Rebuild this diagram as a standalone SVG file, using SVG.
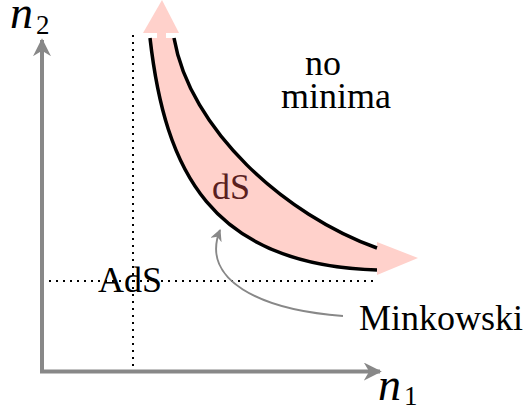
<svg xmlns="http://www.w3.org/2000/svg" width="531" height="411" viewBox="0 0 531 411">
<style>
.axis{stroke:#888;stroke-width:4;fill:none}
.dot{stroke:#000;stroke-width:2;stroke-dasharray:2 5;fill:none}
.lbl{font-family:"Liberation Serif",serif;font-size:36px;fill:#000}
.math{font-family:"Liberation Serif",serif;font-style:italic;font-size:46px;fill:#000}
.sub{font-family:"Liberation Serif",serif;font-size:27px;fill:#000}
.pink{fill:#ffd1cb}
.edge{fill:none;stroke:#000;stroke-width:3.5}
</style>
<defs>
<marker id="ga" viewBox="0 0 10 10" refX="9" refY="5" markerWidth="4.5" markerHeight="4.5" orient="auto" markerUnits="strokeWidth"><path d="M0,0 L10,5 L0,10 L3,5 z" fill="#888"/></marker>
<marker id="gm" viewBox="0 0 10 10" refX="9" refY="5" markerWidth="6" markerHeight="6" orient="auto" markerUnits="strokeWidth"><path d="M0,0 L10,5 L0,10 L3,5 z" fill="#888"/></marker>
</defs>
<g id="dotted">
<line class="dot" x1="133" y1="35" x2="133" y2="372"/>
<line class="dot" x1="42" y1="281" x2="375" y2="281"/>
</g>
<g id="axes">
<line class="axis" x1="42" y1="373" x2="42" y2="40" marker-end="url(#ga)"/>
<line class="axis" x1="40" y1="371.5" x2="380" y2="371.5" marker-end="url(#ga)"/>
<text class="math" x="10" y="28">n</text><text class="sub" x="36" y="34">2</text>
<text class="math" x="378" y="400">n</text><text class="sub" x="404" y="405">1</text>
</g>
<g id="band">
<path class="pink" d="M150,38 C165,170 210,265 377,270 L377,248 C285,215 190,130 174,38 Z"/>
<rect class="pink" x="157" y="32" width="9" height="8"/>
<path class="pink" d="M143,33 L162,0 L179,33 Z"/>
<rect class="pink" x="375" y="251" width="5" height="15"/>
<path class="pink" d="M377,242 L418,258 L377,275 Z"/>
<path class="edge" d="M150,38 C165,170 210,265 377,270"/>
<path class="edge" d="M174,38 C190,130 285,215 377,248"/>
<text x="231" y="199" text-anchor="middle" font-family="Liberation Serif,serif" font-size="36" fill="#5a2020">dS</text>
</g>
<g id="labels">
<text class="lbl" x="323" y="75" text-anchor="middle">no</text>
<text class="lbl" x="336" y="108" text-anchor="middle">minima</text>
<text class="lbl" x="130" y="292" text-anchor="middle">AdS</text>
<text class="lbl" x="441" y="330" text-anchor="middle">Minkowski</text>
</g>
<g id="connectors">
<path d="M343,316 C260,310 200,280 220,230" fill="none" stroke="#888" stroke-width="2" marker-end="url(#gm)"/>
</g>
</svg>
